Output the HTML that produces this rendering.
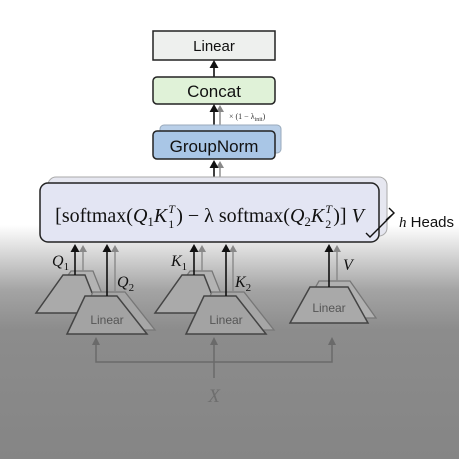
<!DOCTYPE html>
<html><head><meta charset="utf-8"><style>
html,body{margin:0;padding:0;}
body{width:459px;height:459px;overflow:hidden;position:relative;background:linear-gradient(to bottom,#fff 0px,#fff 225px,#a4a4a4 290px,#8c8c8c 330px,#858585 459px);}
svg{position:absolute;left:0;top:0;}
#formula{position:absolute;left:40px;top:204px;width:339px;text-align:center;font-family:"Liberation Serif",serif;font-size:20px;color:#111;white-space:nowrap;line-height:24px;}
#formula i{font-style:italic;}
.sb{font-size:13px;vertical-align:-4px;}
.ss{display:inline-block;position:relative;width:9px;height:20px;vertical-align:-5px;}
.ss .t{position:absolute;left:1px;top:-4px;font-size:12px;line-height:12px;font-style:italic;}
.ss .n{position:absolute;left:1px;top:11px;font-size:12px;line-height:12px;}
</style></head><body>
<svg width="459" height="459" viewBox="0 0 459 459">
<g>
<rect x="153" y="31" width="122" height="29" fill="#eef0ee" stroke="#222" stroke-width="1.5"/>
<text x="214" y="51" text-anchor="middle" font-family="Liberation Sans,sans-serif" font-size="15" fill="#111">Linear</text></g>
<g>
<line x1="214" y1="77" x2="214" y2="66" stroke="#111" stroke-width="1.6"/>
<polygon points="209.5,68 214,60 218.5,68" fill="#111"/></g>
<g>
<rect x="153" y="77" width="122" height="27" rx="4" fill="#e0f2d8" stroke="#222" stroke-width="1.5"/>
<text x="214" y="97" text-anchor="middle" font-family="Liberation Sans,sans-serif" font-size="17" fill="#111">Concat</text></g>
<g>
<line x1="220" y1="131" x2="220" y2="110" stroke="#888" stroke-width="1.4"/>
<polygon points="216,112 220,105 224,112" fill="#888"/>
<line x1="214" y1="131" x2="214" y2="110" stroke="#111" stroke-width="1.6"/>
<polygon points="209.5,112 214,104 218.5,112" fill="#111"/></g>
<text x="229" y="119" font-family="Liberation Serif,serif" font-size="8" fill="#333">× (1 − λ<tspan font-size="6" dy="2">init</tspan><tspan dy="-2">)</tspan></text>
<g>
<rect x="160" y="125" width="121" height="28" rx="4" fill="#b9cfe8" stroke="#9ab" stroke-width="1"/>
<rect x="153" y="131" width="122" height="28" rx="4" fill="#a9c6e6" stroke="#222" stroke-width="1.5"/>
<text x="214" y="152" text-anchor="middle" font-family="Liberation Sans,sans-serif" font-size="17" fill="#111">GroupNorm</text></g>
<g>
<line x1="220" y1="183" x2="220" y2="166" stroke="#888" stroke-width="1.4"/>
<polygon points="216,168 220,161 224,168" fill="#888"/>
<line x1="214" y1="183" x2="214" y2="166" stroke="#111" stroke-width="1.6"/>
<polygon points="209.5,168 214,160 218.5,168" fill="#111"/></g>
<g>
<rect x="48" y="177" width="339" height="59" rx="8" fill="#e6e7f0" stroke="#aaa" stroke-width="1"/>
<rect x="40" y="183" width="339" height="59" rx="8" fill="#e3e5f3" stroke="#222" stroke-width="1.5"/></g>
<path d="M389,208 L394,213 L386,220 M394,213 L370,237 L366,233" fill="none" stroke="#111" stroke-width="1.4"/>
<text x="399" y="227" font-family="Liberation Sans,sans-serif" font-size="15" fill="#111"><tspan font-family="Liberation Serif,serif" font-style="italic">h</tspan> Heads</text>
<g stroke="#6a6a6a" stroke-width="1.5" fill="none">
<path d="M96,343 L96,362 L332,362 L332,343"/>
<line x1="214" y1="378" x2="214" y2="343"/>
</g>
<g fill="#6a6a6a">
<polygon points="92,345 96,337 100,345"/><polygon points="210,345 214,337 218,345"/><polygon points="328,345 332,337 336,345"/></g>
<text x="214" y="402" text-anchor="middle" font-family="Liberation Serif,serif" font-style="italic" font-size="19" fill="#6e6e6e">X</text>
<g>
<path d="M71,271 L93,271 L108,309 L44,309z" fill="#b3b3b3" stroke="#777" stroke-width="1.3"/>
<path d="M63,275 L85,275 L100,313 L36,313z" fill="#aaaaaa" stroke="#444" stroke-width="1.5"/>
<path d="M93,292 L125,292 L155,330 L75,330z" fill="#a6a6a6" stroke="#777" stroke-width="1.3"/>
<path d="M85,296 L117,296 L147,334 L67,334z" fill="#a3a3a3" stroke="#444" stroke-width="1.5"/>
<text x="107" y="324" text-anchor="middle" font-family="Liberation Sans,sans-serif" font-size="12" fill="#555">Linear</text>
<line x1="83" y1="271" x2="83" y2="250" stroke="#888" stroke-width="1.4"/><polygon points="79,252 83,245 87,252" fill="#888"/>
<line x1="75" y1="275" x2="75" y2="250" stroke="#111" stroke-width="1.6"/><polygon points="70.5,252 75,244 79.5,252" fill="#111"/>
<line x1="115" y1="292" x2="115" y2="250" stroke="#888" stroke-width="1.4"/><polygon points="111,252 115,245 119,252" fill="#888"/>
<line x1="107" y1="296" x2="107" y2="250" stroke="#111" stroke-width="1.6"/><polygon points="102.5,252 107,244 111.5,252" fill="#111"/>
<text x="52" y="266" font-family="Liberation Serif,serif" font-style="italic" font-size="16" fill="#111">Q<tspan font-style="normal" font-size="11" dy="4">1</tspan></text>
<text x="117" y="287" font-family="Liberation Serif,serif" font-style="italic" font-size="16" fill="#111">Q<tspan font-style="normal" font-size="11" dy="4">2</tspan></text>
</g>
<g>
<path d="M190,271 L212,271 L227,309 L163,309z" fill="#b3b3b3" stroke="#777" stroke-width="1.3"/>
<path d="M182,275 L204,275 L219,313 L155,313z" fill="#aaaaaa" stroke="#444" stroke-width="1.5"/>
<path d="M212,292 L244,292 L274,330 L194,330z" fill="#a6a6a6" stroke="#777" stroke-width="1.3"/>
<path d="M204,296 L236,296 L266,334 L186,334z" fill="#a3a3a3" stroke="#444" stroke-width="1.5"/>
<text x="226" y="324" text-anchor="middle" font-family="Liberation Sans,sans-serif" font-size="12" fill="#555">Linear</text>
<line x1="202" y1="271" x2="202" y2="250" stroke="#888" stroke-width="1.4"/><polygon points="198,252 202,245 206,252" fill="#888"/>
<line x1="194" y1="275" x2="194" y2="250" stroke="#111" stroke-width="1.6"/><polygon points="189.5,252 194,244 198.5,252" fill="#111"/>
<line x1="233" y1="292" x2="233" y2="250" stroke="#888" stroke-width="1.4"/><polygon points="229,252 233,245 237,252" fill="#888"/>
<line x1="226" y1="296" x2="226" y2="250" stroke="#111" stroke-width="1.6"/><polygon points="221.5,252 226,244 230.5,252" fill="#111"/>
<text x="171" y="266" font-family="Liberation Serif,serif" font-style="italic" font-size="16" fill="#111">K<tspan font-style="normal" font-size="11" dy="4">1</tspan></text>
<text x="235" y="287" font-family="Liberation Serif,serif" font-style="italic" font-size="16" fill="#111">K<tspan font-style="normal" font-size="11" dy="4">2</tspan></text>
</g>
<g>
<path d="M319,281 L350,281 L376,318 L298,318z" fill="#b0b0b0" stroke="#777" stroke-width="1.3"/>
<path d="M310,287 L348,287 L368,323 L290,323z" fill="#a9a9a9" stroke="#444" stroke-width="1.5"/>
<text x="329" y="312" text-anchor="middle" font-family="Liberation Sans,sans-serif" font-size="12" fill="#555">Linear</text>
<line x1="337" y1="281" x2="337" y2="250" stroke="#888" stroke-width="1.4"/><polygon points="333,252 337,245 341,252" fill="#888"/>
<line x1="329" y1="287" x2="329" y2="250" stroke="#111" stroke-width="1.6"/><polygon points="324.5,252 329,244 333.5,252" fill="#111"/>
<text x="343" y="270" font-family="Liberation Serif,serif" font-style="italic" font-size="16" fill="#111">V</text>
</g>
</svg>
<div id="formula">[softmax(<i>Q</i><span class="sb">1</span><i>K</i><span class="ss"><span class="t">T</span><span class="n">1</span></span>) − λ softmax(<i>Q</i><span class="sb">2</span><i>K</i><span class="ss"><span class="t">T</span><span class="n">2</span></span>)] <i>V</i></div>
</body></html>
